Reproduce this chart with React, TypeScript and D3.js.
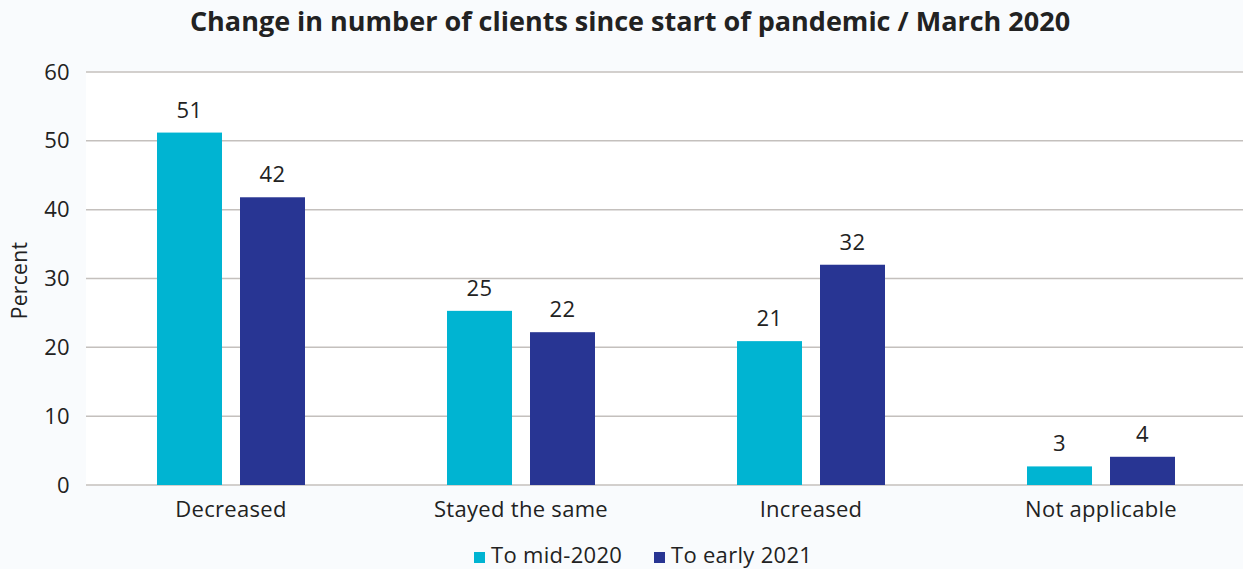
import React, { useEffect, useRef } from 'react';
import * as d3 from 'd3';

const categories = ['Decreased', 'Stayed the same', 'Increased', 'Not applicable'];
const seriesNames = ['To mid-2020', 'To early 2021'];
const mid2020 = [51.2, 25.3, 20.9, 2.7];
const early2021 = [41.8, 22.2, 32.0, 4.1];
const labelsMid = ['51', '25', '21', '3'];
const labelsEarly = ['42', '22', '32', '4'];
const yTicks = [0, 10, 20, 30, 40, 50, 60];
const colors = ['#00b4d2', '#283593'];

const W = 1243;
const H = 569;
const FONT = '"Open Sans", Lato, sans-serif';

const App: React.FC = () => {
  const svgRef = useRef<SVGSVGElement>(null);

  useEffect(() => {
    if (!svgRef.current) return;
    const svg = d3.select(svgRef.current);
    svg.selectAll('*').remove();

    const left = 86, right = 1243, top = 72, bottom = 485;

    svg.append('rect').attr('width', W).attr('height', H).attr('fill', '#f9fbfd');
    svg.append('rect')
      .attr('x', left).attr('y', top)
      .attr('width', right - left).attr('height', bottom - top)
      .attr('fill', '#ffffff');

    const x = d3.scaleBand<string>().domain(categories).range([left, right + 3]);
    const y = d3.scaleLinear().domain([0, 60]).range([bottom, top]);

    const txt = (sel: any, size = 22) =>
      sel.style('font-family', FONT)
        .style('font-size', `${size}px`)
        .style('letter-spacing', '0.3px')
        .style('fill', '#222');

    // gridlines
    svg.append('g')
      .selectAll('line')
      .data(yTicks)
      .enter()
      .append('line')
      .attr('x1', left).attr('x2', right)
      .attr('y1', d => y(d)).attr('y2', d => y(d))
      .attr('stroke', '#c4c0bd')
      .attr('stroke-width', 1.5);

    // y tick labels
    txt(svg.append('g')
      .selectAll('text')
      .data(yTicks)
      .enter()
      .append('text')
      .attr('x', 70)
      .attr('y', d => y(d) + 7.5)
      .attr('text-anchor', 'end')
      .text(d => String(d)));

    // y axis title
    txt(svg.append('text')
      .attr('transform', `translate(27,${(top + bottom) / 2 + 2}) rotate(-90)`)
      .attr('text-anchor', 'middle')
      .text('Percent'), 21);

    const barW = 65;
    const gap = 18;
    const series = [mid2020, early2021];
    const labels = [labelsMid, labelsEarly];

    series.forEach((vals, si) => {
      const offset = si === 0 ? -(gap / 2 + barW) : gap / 2;
      const g = svg.append('g');
      g.selectAll('rect')
        .data(vals)
        .enter()
        .append('rect')
        .attr('x', (_, i) => (x(categories[i]) as number) + x.bandwidth() / 2 + offset)
        .attr('y', d => y(d))
        .attr('width', barW)
        .attr('height', d => bottom - y(d))
        .attr('fill', colors[si]);
      txt(g.selectAll('text')
        .data(vals)
        .enter()
        .append('text')
        .attr('x', (_, i) => (x(categories[i]) as number) + x.bandwidth() / 2 + offset + barW / 2)
        .attr('y', d => y(d) - 15)
        .attr('text-anchor', 'middle')
        .text((_, i) => labels[si][i]));
    });

    // category labels
    txt(svg.append('g')
      .selectAll('text')
      .data(categories)
      .enter()
      .append('text')
      .attr('x', d => (x(d) as number) + x.bandwidth() / 2)
      .attr('y', 517)
      .attr('text-anchor', 'middle')
      .text(d => d));

    // title
    svg.append('text')
      .attr('x', 630)
      .attr('y', 31)
      .attr('text-anchor', 'middle')
      .style('font-family', FONT)
      .style('font-size', '27px')
      .style('font-weight', 'bold')
      .style('fill', '#222')
      .text('Change in number of clients since start of pandemic / March 2020');

    // legend
    const legendX = [474, 654];
    seriesNames.forEach((name, i) => {
      svg.append('rect')
        .attr('x', legendX[i]).attr('y', 552)
        .attr('width', 11).attr('height', 11)
        .attr('fill', colors[i]);
      txt(svg.append('text')
        .attr('x', legendX[i] + 17)
        .attr('y', 563)
        .text(name));
    });
  }, []);

  return <svg ref={svgRef} width={W} height={H} style={{ display: 'block', position: 'absolute', left: 0, top: 0 }} />;
};

export default App;
